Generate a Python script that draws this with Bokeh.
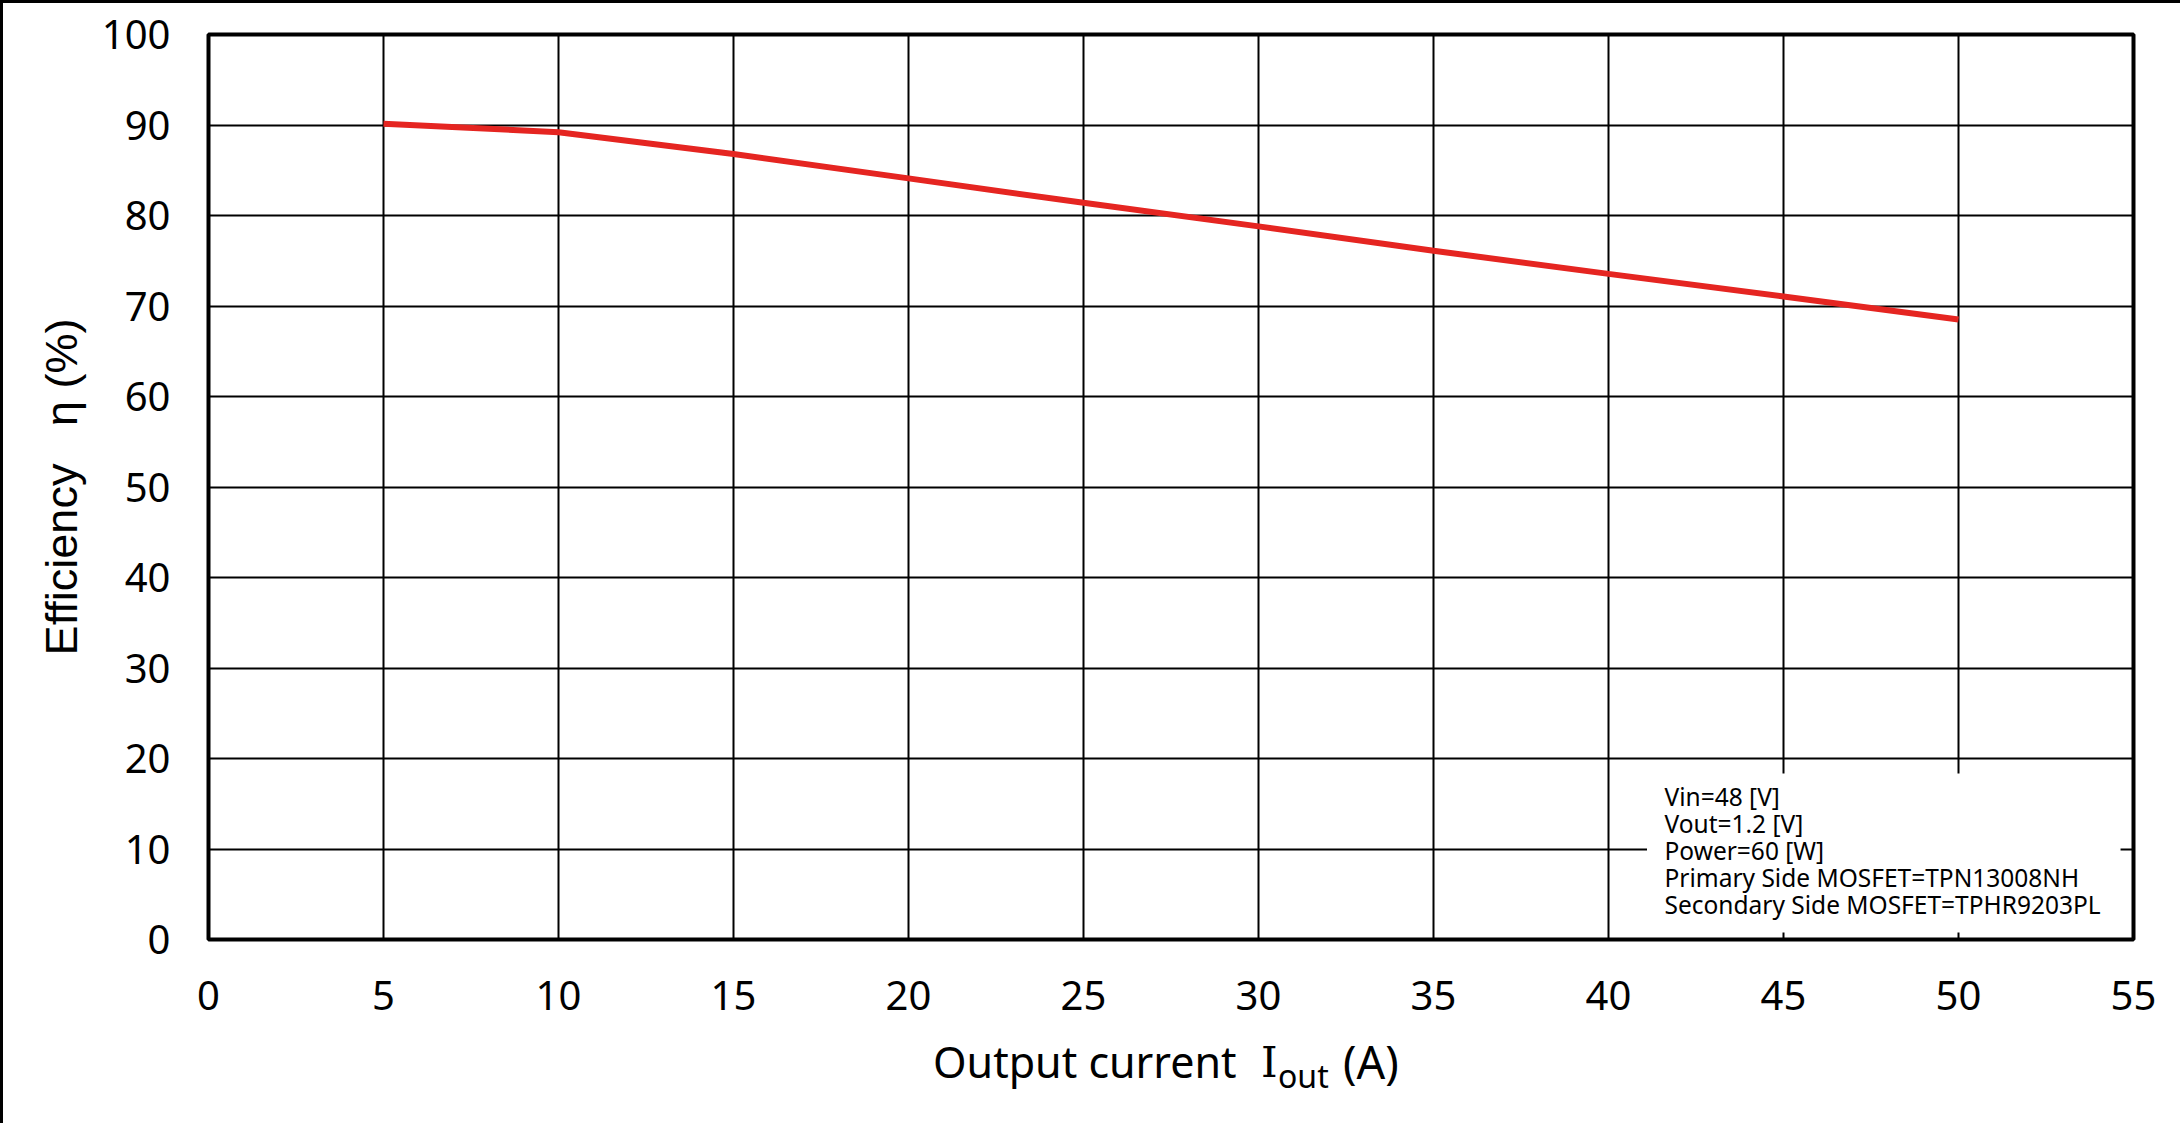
from bokeh.plotting import figure
from bokeh.layouts import column
from bokeh.models import Range1d, FixedTicker, Label, BoxAnnotation, Div
from bokeh.embed import file_html
from bokeh.resources import INLINE

# ---- data ----
current_a = [5, 10, 15, 20, 25, 30, 35, 40, 45, 50]
efficiency_pct = [90.15, 89.2, 86.8, 84.1, 81.4, 78.8, 76.1, 73.55, 71.05, 68.5]
x_ticks = [0, 5, 10, 15, 20, 25, 30, 35, 40, 45, 50, 55]
y_ticks = [0, 10, 20, 30, 40, 50, 60, 70, 80, 90, 100]
note_lines = [
    "Vin=48 [V]",
    "Vout=1.2 [V]",
    "Power=60 [W]",
    "Primary Side MOSFET=TPN13008NH",
    "Secondary Side MOSFET=TPHR9203PL",
]
y_title = "Efficiency\u00a0\u00a0\u00a0η (%)"
x_title_parts = ["Output current", "I", "out", "(A)"]

TICK_FONT = "Noto Sans"
BW = 3                      # outer border width
W = 2180 - 2 * BW
FIG_H = 1027
DIV_H = 1121 - 2 * BW - FIG_H

p = figure(
    width=W, height=FIG_H,
    x_range=Range1d(0, 55), y_range=Range1d(0, 100),
    output_backend="svg", toolbar_location=None,
    min_border_left=208 - BW, min_border_right=W - (208 - BW) - 1925,
    min_border_top=34 - BW, min_border_bottom=FIG_H - (34 - BW) - 905,
)
p.background_fill_color = "white"
p.border_fill_color = "white"
p.outline_line_color = "black"
p.outline_line_width = 4

for ax in (p.xaxis[0], p.yaxis[0]):
    ax.axis_line_color = None
    ax.major_tick_line_color = None
    ax.minor_tick_line_color = None
    ax.major_label_text_font = TICK_FONT
    ax.major_label_text_font_size = "40px"
    ax.major_label_text_color = "black"
p.xaxis[0].ticker = FixedTicker(ticks=x_ticks)
p.yaxis[0].ticker = FixedTicker(ticks=y_ticks)
p.xaxis[0].major_label_standoff = 35
p.yaxis[0].major_label_standoff = 32

p.yaxis[0].axis_label = y_title
p.yaxis[0].axis_label_text_font = "Liberation Sans"
p.yaxis[0].axis_label_text_font_style = "normal"
p.yaxis[0].axis_label_text_font_size = "45px"
p.yaxis[0].axis_label_text_color = "black"
p.yaxis[0].axis_label_standoff = 12

p.xgrid[0].ticker = FixedTicker(ticks=x_ticks)
p.ygrid[0].ticker = FixedTicker(ticks=y_ticks)
for g in (p.xgrid[0], p.ygrid[0]):
    g.grid_line_color = "black"
    g.grid_line_width = 2
    g.grid_line_alpha = 1.0

p.line(current_a, efficiency_pct, line_color="#E52521", line_width=6)

# white note box covering the grid
p.add_layout(BoxAnnotation(left=41.1, right=54.63, bottom=0.77, top=18.35,
                           fill_color="white", fill_alpha=1.0, line_color=None))

note_y = [15.8, 12.81, 9.83, 6.85, 3.86]
for txt, yy in zip(note_lines, note_y):
    p.add_layout(Label(x=41.6, y=yy, text=txt, text_font=TICK_FONT,
                       text_font_size="24.5px", text_color="black",
                       text_align="left", text_baseline="alphabetic"))

# x-axis title with a lowered "out" (HTML text below the figure)
def span(txt, left, top, font, size):
    return ('<span style="position:absolute;left:%dpx;top:%dpx;white-space:nowrap;'
            'font-family:\'%s\';font-size:%dpx;line-height:%dpx;color:black;">%s</span>'
            % (left - BW, top, font, size, size, txt))

x_title_html = (
    '<div style="position:relative;width:%dpx;height:%dpx;">' % (W, DIV_H)
    + span(x_title_parts[0], 928, 5, "Noto Sans", 43)
    + span(x_title_parts[1], 1256, 7, "DejaVu Serif", 42)
    + span(x_title_parts[2], 1273, 25, "Noto Sans", 32)
    + span(x_title_parts[3], 1338, 4, "Noto Sans", 45)
    + '</div>'
)
div = Div(text=x_title_html, width=W, height=DIV_H)

layout = column(p, div, spacing=0,
                styles={"border": "%dpx solid black" % BW, "background": "white"})

open("out.html", "w").write(file_html(layout, INLINE))
